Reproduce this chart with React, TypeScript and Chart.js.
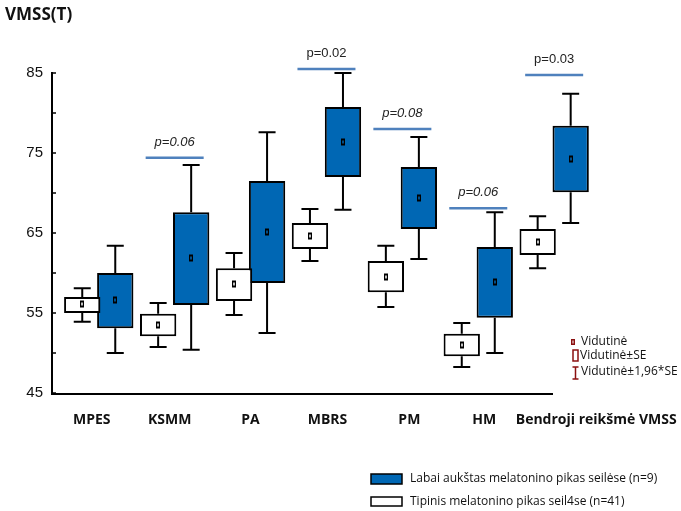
import React, { useEffect, useRef } from 'react';
import { Chart, registerables } from 'chart.js';

Chart.register(...registerables);

// ---- data ----
const categories = ['MPES', 'KSMM', 'PA', 'MBRS', 'PM', 'HM', 'Bendroji reikšmė VMSS'];

// Tipinis melatonino pikas (white)
const whiteMean = [56.1, 53.5, 58.6, 64.6, 59.5, 51.0, 63.9];
const whiteSeLow = [55.0, 52.1, 56.5, 63.0, 57.6, 49.6, 62.25];
const whiteSeHigh = [57.0, 54.9, 60.6, 66.25, 61.5, 52.4, 65.5];
const whiteCiLow = [53.9, 50.75, 54.75, 61.5, 55.75, 48.25, 60.6];
const whiteCiHigh = [58.1, 56.25, 62.5, 68.0, 63.4, 53.75, 67.1];

// Labai aukštas melatonino pikas (blue)
const blueMean = [56.6, 61.9, 65.1, 76.4, 69.4, 58.9, 74.25];
const blueSeLow = [53.1, 56.0, 58.75, 72.0, 65.5, 54.4, 70.1];
const blueSeHigh = [60.0, 67.6, 71.5, 80.75, 73.25, 63.25, 78.4];
const blueCiLow = [50.0, 50.4, 52.5, 67.9, 61.75, 50.0, 66.25];
const blueCiHigh = [63.4, 73.5, 77.6, 85.0, 77.0, 67.6, 82.4];

// p-values
const pLabels = ['', 'p=0.06', '', 'p=0.02', 'p=0.08', 'p=0.06', 'p=0.03'];
const pLevels = [null, 74.4, null, 85.5, 78.0, 68.1, 84.75];
const pItalic = [false, true, false, false, true, true, false];

const yTickLabels = [45, 55, 65, 75, 85];

const seriesNames = [
  'Labai aukštas melatonino pikas seilėse (n=9)',
  'Tipinis melatonino pikas seil4se (n=41)',
];
const innerLegend = ['Vidutinė', 'Vidutinė±SE', 'Vidutinė±1,96*SE'];

const BLUE = '#0067B4';
const PLINE = '#4F81BD';
const DARKRED = '#8B1010';

export default function App() {
  const ref = useRef<HTMLCanvasElement>(null);

  useEffect(() => {
    const canvas = ref.current!;
    const idx = categories.map((_, i) => i);
    const labelShift = [-7, -5, 0, 1, 7, 6, 42];

    const groups = [
      { mean: whiteMean, ciLow: whiteCiLow, ciHigh: whiteCiHigh, seLow: whiteSeLow, seHigh: whiteSeHigh, fill: '#ffffff' },
      { mean: blueMean, ciLow: blueCiLow, ciHigh: blueCiHigh, seLow: blueSeLow, seHigh: blueSeHigh, fill: BLUE },
    ];

    const extras = {
      id: 'boxExtras',
      beforeDatasetsDraw(chart: any) {
        const ctx = chart.ctx;
        const ys = chart.scales.y;
        ctx.save();
        ctx.strokeStyle = '#000';
        ctx.lineWidth = 2;
        groups.forEach((g, d) => {
          const meta = chart.getDatasetMeta(d);
          meta.data.forEach((bar: any, i: number) => {
            const x = bar.x;
            const pairs = [
              [g.seHigh[i], g.ciHigh[i]],
              [g.seLow[i], g.ciLow[i]],
            ];
            pairs.forEach(([a, b]) => {
              const ya = ys.getPixelForValue(a);
              const yb = ys.getPixelForValue(b);
              ctx.beginPath();
              ctx.moveTo(x, ya);
              ctx.lineTo(x, yb);
              ctx.moveTo(x - 8.5, yb);
              ctx.lineTo(x + 8.5, yb);
              ctx.stroke();
            });
          });
        });
        ctx.restore();
      },
      afterDatasetsDraw(chart: any) {
        const ctx = chart.ctx;
        const ys = chart.scales.y;
        const xs = chart.scales.x;
        const area = chart.chartArea;
        ctx.save();
        // mean markers
        groups.forEach((g, d) => {
          const meta = chart.getDatasetMeta(d);
          meta.data.forEach((bar: any, i: number) => {
            const x = Math.round(bar.x);
            const y = Math.round(ys.getPixelForValue(g.mean[i]));
            ctx.fillStyle = '#000';
            ctx.fillRect(x - 2, y - 3.5, 4, 7);
            ctx.fillStyle = g.fill;
            ctx.fillRect(x - 0.75, y - 1.5, 1.5, 3);
          });
        });
        // x axis line
        ctx.strokeStyle = '#000';
        ctx.lineWidth = 2;
        ctx.beginPath();
        ctx.moveTo(area.left - 1, area.bottom + 1);
        ctx.lineTo(area.right - 2, area.bottom + 1);
        ctx.stroke();
        // inner y ticks
        ctx.lineWidth = 1.5;
        for (let v = ys.min; v <= ys.max; v += 5) {
          const y = ys.getPixelForValue(v);
          ctx.beginPath();
          ctx.moveTo(area.left, y);
          ctx.lineTo(area.left + 4, y);
          ctx.stroke();
        }
        // p-value lines
        idx.forEach((i) => {
          const lv = pLevels[i];
          if (lv === null) return;
          const cx = xs.getPixelForValue(i);
          const y = ys.getPixelForValue(lv);
          ctx.strokeStyle = PLINE;
          ctx.lineWidth = 2.5;
          ctx.beginPath();
          ctx.moveTo(cx - 29, y);
          ctx.lineTo(cx + 29, y);
          ctx.stroke();
          ctx.fillStyle = '#222';
          ctx.font = (pItalic[i] ? 'italic ' : '') + '13px "Liberation Sans", Arial, sans-serif';
          ctx.textAlign = 'center';
          ctx.textBaseline = 'alphabetic';
          ctx.fillText(pLabels[i], cx, y - 12);
        });
        // category labels
        ctx.fillStyle = '#111';
        ctx.font = 'bold 14px "Open Sans", sans-serif';
        ctx.textAlign = 'center';
        ctx.textBaseline = 'middle';
        idx.forEach((i) => {
          ctx.fillText(categories[i], xs.getPixelForValue(i) + labelShift[i], 420);
        });
        // title
        ctx.textAlign = 'left';
        ctx.font = 'bold 17px "Open Sans", sans-serif';
        ctx.fillText('VMSS(T)', 5, 15);

        // inner legend
        ctx.font = '12px "Open Sans", sans-serif';
        ctx.textBaseline = 'middle';
        ctx.fillStyle = DARKRED;
        ctx.fillRect(571, 339, 4, 6);
        ctx.fillStyle = '#fff';
        ctx.fillRect(572.5, 340.5, 1, 3);
        ctx.strokeStyle = DARKRED;
        ctx.lineWidth = 1.5;
        ctx.strokeRect(573, 350, 5, 11);
        ctx.beginPath();
        ctx.moveTo(575.5, 367);
        ctx.lineTo(575.5, 379);
        ctx.moveTo(572.5, 367);
        ctx.lineTo(578.5, 367);
        ctx.moveTo(572.5, 379);
        ctx.lineTo(578.5, 379);
        ctx.stroke();
        ctx.fillStyle = '#111';
        ctx.fillText(innerLegend[0], 581, 342);
        ctx.fillText(innerLegend[1], 580, 356);
        ctx.fillText(innerLegend[2], 581, 372);

        // bottom legend
        ctx.lineWidth = 1.5;
        ctx.strokeStyle = '#000';
        ctx.fillStyle = BLUE;
        ctx.fillRect(371, 474, 31, 10);
        ctx.strokeRect(371, 474, 31, 10);
        ctx.fillStyle = '#fff';
        ctx.fillRect(371, 497, 31, 9);
        ctx.strokeRect(371, 497, 31, 9);
        ctx.fillStyle = '#111';
        ctx.font = '12px "Open Sans", sans-serif';
        ctx.fillText(seriesNames[0], 410, 479);
        ctx.fillText(seriesNames[1], 410, 502);
        ctx.restore();
      },
    };

    const chart = new Chart(canvas, {
      type: 'bar',
      data: {
        datasets: [
          {
            label: seriesNames[1],
            data: idx.map((i) => ({ x: i, y: [whiteSeLow[i], whiteSeHigh[i]] })) as any,
            backgroundColor: '#ffffff',
            borderColor: '#000',
            borderWidth: 2,
            borderSkipped: false,
            clip: false as any,
            categoryPercentage: 0.87,
            barPercentage: 1.1,
          },
          {
            label: seriesNames[0],
            data: idx.map((i) => ({ x: i, y: [blueSeLow[i], blueSeHigh[i]] })) as any,
            backgroundColor: BLUE,
            borderColor: '#000',
            borderWidth: 2,
            borderSkipped: false,
            clip: false as any,
            categoryPercentage: 0.87,
            barPercentage: 1.1,
          },
        ],
      },
      options: {
        animation: false,
        responsive: false,
        maintainAspectRatio: false,
        layout: { padding: { top: 73, left: 0, right: 126, bottom: 118 } },
        scales: {
          x: { type: 'linear', min: -0.616, max: 6.011, display: false, offset: false },
          y: {
            min: 45,
            max: 85,
            afterFit: (s: any) => {
              s.width = 52;
            },
            ticks: {
              stepSize: 5,
              color: '#111',
              padding: 9,
              font: { family: '"Liberation Sans", Arial, sans-serif', size: 15 },
              callback: (v: any) => (yTickLabels.includes(Number(v)) ? String(v) : ''),
            },
            grid: { drawOnChartArea: false, drawTicks: false },
            border: { color: '#000', width: 2 },
          },
        },
        plugins: { legend: { display: false }, tooltip: { enabled: false }, title: { display: false } },
      },
      plugins: [extras],
    } as any);

    return () => chart.destroy();
  }, []);

  return (
    <div style={{ position: 'absolute', left: 0, top: 0, width: 681, height: 511 }}>
      <canvas ref={ref} width={681} height={511} style={{ width: 681, height: 511, display: 'block' }} />
    </div>
  );
}
